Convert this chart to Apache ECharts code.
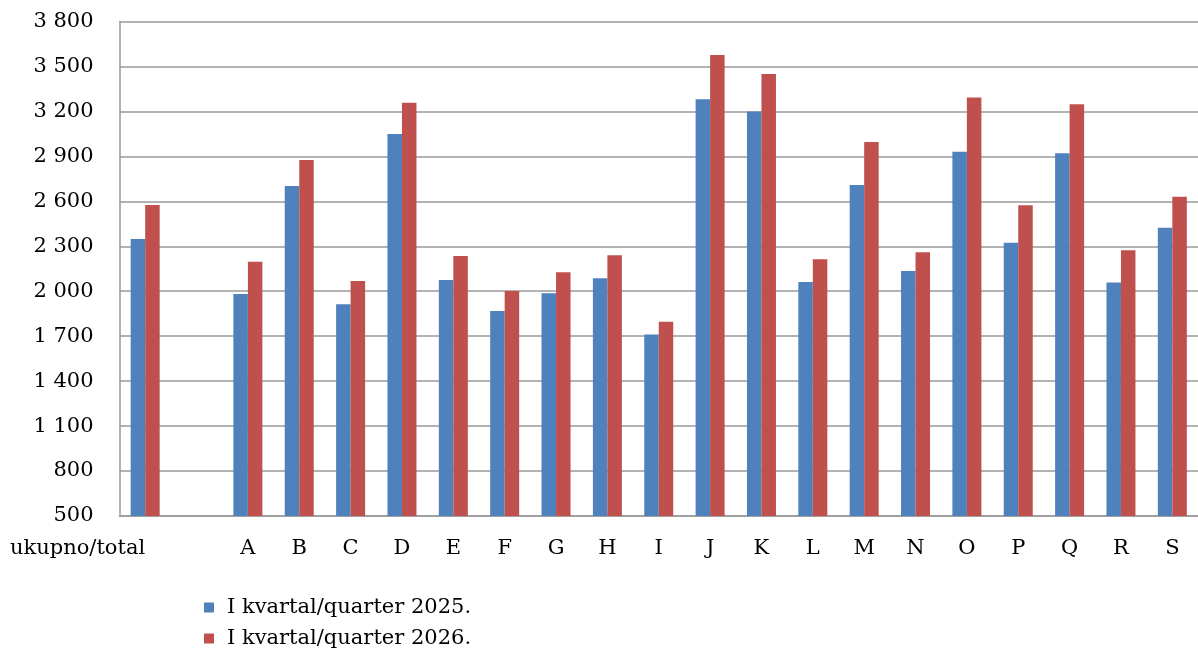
<!DOCTYPE html>
<html>
<head>
<meta charset="utf-8">
<script src="https://cdn.jsdelivr.net/npm/echarts@6/dist/echarts.min.js"></script>
<style>
    html, body { margin: 0; padding: 0; background: #fff; }
    #chart { width: 1198px; height: 655px; }
</style>
</head>
<body>
<div id="chart"></div>
<script>
var categories = ['ukupno/total', '', 'A', 'B', 'C', 'D', 'E', 'F', 'G', 'H', 'I', 'J', 'K', 'L', 'M', 'N', 'O', 'P', 'Q', 'R', 'S'];
var seriesNames = ['I kvartal/quarter 2025.', 'I kvartal/quarter 2026.'];
var q2025 = [2348, null, 1981, 2702, 1913, 3049, 2075, 1868, 1986, 2086, 1712, 3281, 3200, 2062, 2709, 2135, 2931, 2324, 2920, 2059, 2424];
var q2026 = [2575, null, 2197, 2876, 2068, 3258, 2235, 2001, 2126, 2240, 1797, 3576, 3450, 2213, 2996, 2260, 3292, 2573, 3247, 2273, 2631];
var yMin = 500, yMax = 3800, yStep = 300;

var fontName = 'DejaVu Serif';

function spaceThousands(v) {
    return String(v).replace(/\B(?=(\d{3})+(?!\d))/g, ' ');
}

// first label sits to the left of its bars, like in the original
var xData = categories.map(function (c, i) {
    if (i == 0) {
        return { value: c, textStyle: { align: 'right' } };
    }
    return c;
});

var chart = echarts.init(document.getElementById('chart'));
var option = {
    animation: false,
    backgroundColor: '#fff',
    textStyle: { fontFamily: fontName },
    grid: {
        left: 119.5,
        right: 0,
        top: 21.5,
        bottom: 139,
        containLabel: false
    },
    legend: {
        orient: 'vertical',
        left: 199,
        top: 592,
        height: 63,
        itemWidth: 10,
        itemHeight: 10,
        itemGap: 10,
        icon: 'rect',
        data: seriesNames,
        textStyle: {
            fontFamily: fontName,
            fontSize: 21,
            color: '#000',
            padding: [0, 0, 0, 8]
        }
    },
    xAxis: {
        type: 'category',
        data: xData,
        axisLine: { show: true, lineStyle: { color: '#9a9a9a', width: 1.5 } },
        axisTick: { show: false },
        axisLabel: {
            interval: 0,
            margin: 22,
            fontFamily: fontName,
            fontSize: 21,
            color: '#000'
        }
    },
    yAxis: {
        type: 'value',
        min: yMin,
        max: yMax,
        interval: yStep,
        axisLine: { show: true, lineStyle: { color: '#9a9a9a', width: 1.5 } },
        axisTick: { show: false },
        splitLine: { show: true, lineStyle: { color: '#9a9a9a', width: 1.5 } },
        axisLabel: {
            margin: 26,
            fontFamily: fontName,
            fontSize: 21,
            color: '#000',
            formatter: spaceThousands
        }
    },
    series: [{
        name: seriesNames[0],
        type: 'bar',
        data: q2025,
        barWidth: 14.5,
        barGap: '0%',
        itemStyle: { color: '#4f81bd' }
    }, {
        name: seriesNames[1],
        type: 'bar',
        data: q2026,
        barWidth: 14.5,
        barGap: '0%',
        itemStyle: { color: '#c0504d' }
    }]
};
chart.setOption(option);
</script>
</body>
</html>
